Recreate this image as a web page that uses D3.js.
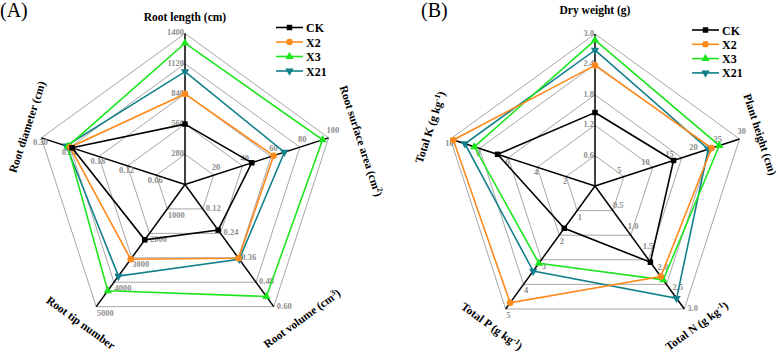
<!DOCTYPE html>
<html>
<head>
<meta charset="utf-8">
<script src="https://cdn.jsdelivr.net/npm/d3@7"></script>
<style>
  body { margin: 0; background: #fff; }
  svg { display: block; font-family: "Liberation Serif", "Times New Roman", serif; }
</style>
</head>
<body>
<svg id="chart" width="778" height="352"></svg>
<script>
// ---- data ----
const seriesNames = ["CK", "X2", "X3", "X21"];
const seriesColors = ["#000000", "#ff8a1c", "#1ee61e", "#127f8a"];

// panel A (root traits), clockwise from the top; {..} marks a superscript
const titlesA = ["Root length (cm)", "Root surface area (cm{2})", "Root volume (cm{3})", "Root tip number", "Root diameter (cm)"];
const maximaA = [1400, 100, 0.60, 5000, 0.30];
const tickLabelsA = [
  ["280", "560", "840", "1120", "1400"],
  ["20", "40", "60", "80", "100"],
  ["0.12", "0.24", "0.36", "0.48", "0.60"],
  ["1000", "2000", "3000", "4000", "5000"],
  ["0.06", "0.12", "0.18", "0.24", "0.30"]
];
const ckA  = [560, 46.5, 0.224, 2265, 0.236];
const x2A  = [840, 61.7, 0.362, 3060, 0.240];
const x3A  = [1310, 95.8, 0.550, 4350, 0.245];
const x21A = [1046, 69.2, 0.367, 3750, 0.248];

// panel B (plant traits)
const titlesB = ["Dry weight (g)", "Plant height (cm)", "Total N (g kg{-1})", "Total P (g kg{-1})", "Total K (g kg{-1})"];
const maximaB = [3.0, 30, 3.0, 5, 10];
const tickLabelsB = [
  ["0.6", "1.2", "1.8", "2.4", "3.0"],
  ["5", "10", "15", "20", "25", "30"],
  ["0.5", "1.0", "1.5", "2.0", "2.5", "3.0"],
  ["1", "2", "3", "4", "5"],
  ["2", "4", "6", "8", "10"]
];
const ckB  = [1.45, 16.3, 1.86, 1.72, 6.74];
const x2B  = [2.38, 24.2, 2.21, 4.75, 9.80];
const x3B  = [2.88, 25.8, 2.29, 3.14, 8.35];
const x21B = [2.68, 23.5, 2.74, 3.46, 9.00];

const svg = d3.select("#chart");

const symbolFor = [
  d3.symbol().type(d3.symbolSquare).size(30),
  d3.symbol().type(d3.symbolCircle).size(34),
  d3.symbol().type(d3.symbolTriangle).size(30),
  d3.symbol().type(d3.symbolTriangle).size(30)
];
const symbolRotate = [0, 0, 0, 180];

// tick label placement for each spoke (top, right, lower right, lower left, left)
const tickPos = [
  {anchor: "end", dx: -1, dy: 0},
  {anchor: "start", dx: -2, dy: -7},
  {anchor: "start", dx: 3, dy: 0},
  {anchor: "start", dx: 0.5, dy: 7},
  {anchor: "middle", dx: -1, dy: 5.5}
];

function addRich(sel, str) {
  // split "abc{2}" into normal and superscript tspans
  const parts = str.split(/(\{[^}]*\})/).filter(p => p.length);
  let up = false;
  parts.forEach(p => {
    if (p[0] === "{") {
      sel.append("tspan").attr("dy", -4).attr("font-size", "70%").text(p.slice(1, -1));
      up = true;
    } else {
      sel.append("tspan").attr("dy", up ? 4 : null).text(p);
      up = false;
    }
  });
}

function drawRadar(cfg) {
  const g = svg.append("g");
  const n = cfg.titles.length;
  const ang = i => i * 2 * Math.PI / n;
  const pt = (i, r) => [cfg.cx + r * Math.sin(ang(i)), cfg.cy - r * Math.cos(ang(i))];
  const scales = cfg.maxima.map(m => d3.scaleLinear().domain([0, m]).range([0, cfg.radius]));
  const ring = d3.scaleLinear().domain([0, 5]).range([0, cfg.radius]);
  const closed = d3.line().curve(d3.curveLinearClosed);

  // grid rings
  g.selectAll(".ring").data(d3.range(1, 6)).join("path")
    .attr("class", "ring")
    .attr("d", k => closed(d3.range(n).map(i => pt(i, ring(k)))))
    .attr("fill", "none")
    .attr("stroke", "#9c9c9c")
    .attr("stroke-width", 0.9);

  // spokes
  g.selectAll(".spoke").data(d3.range(n)).join("line")
    .attr("class", "spoke")
    .attr("x1", cfg.cx).attr("y1", cfg.cy)
    .attr("x2", i => pt(i, cfg.radius)[0])
    .attr("y2", i => pt(i, cfg.radius)[1])
    .attr("stroke", "#000")
    .attr("stroke-width", 1.5);

  // tick labels
  cfg.ticks.forEach((labels, i) => {
    g.append("g").selectAll("text").data(labels).join("text")
      .attr("x", t => pt(i, scales[i](+t))[0] + tickPos[i].dx)
      .attr("y", t => pt(i, scales[i](+t))[1] + tickPos[i].dy)
      .attr("text-anchor", tickPos[i].anchor)
      .attr("dominant-baseline", "middle")
      .attr("font-size", 8.5)
      .attr("font-weight", "bold")
      .attr("fill", "#8e8e8e")
      .text(t => t);
  });

  // axis titles
  cfg.titles.forEach((t, i) => {
    const txt = g.append("text")
      .attr("font-size", 11.5)
      .attr("font-weight", "bold")
      .attr("text-anchor", "middle")
      .attr("fill", "#000");
    if (i === 0) {
      txt.attr("x", cfg.cx).attr("y", cfg.cy - cfg.radius - cfg.topGap);
    } else {
      let deg = i * 360 / n;
      if (deg > 180) deg -= 360;
      if (deg > 90) deg -= 180;
      if (deg < -90) deg += 180;
      const [px, py] = pt(i, cfg.radius + cfg.titleGap[i]);
      txt.attr("transform", `translate(${px},${py}) rotate(${deg})`)
        .attr("x", cfg.titleShift[i])
        .attr("y", 4);
    }
    addRich(txt, t);
  });

  // series polygons, CK last so it sits on top
  const order = [3, 2, 1, 0];
  order.forEach(s => {
    const vals = cfg.series[s];
    const pts = vals.map((v, i) => pt(i, scales[i](v)));
    g.append("path")
      .attr("d", closed(pts))
      .attr("fill", "none")
      .attr("stroke", seriesColors[s])
      .attr("stroke-width", 1.6);
    g.append("g").selectAll("path").data(pts).join("path")
      .attr("transform", p => `translate(${p[0]},${p[1]}) rotate(${symbolRotate[s]})`)
      .attr("d", symbolFor[s]())
      .attr("fill", seriesColors[s]);
  });

  // legend
  const lg = g.append("g").attr("transform", `translate(${cfg.legendX},${cfg.legendY})`);
  seriesNames.forEach((name, s) => {
    const row = lg.append("g").attr("transform", `translate(0,${s * cfg.legendStep})`);
    row.append("line").attr("x1", 0).attr("x2", 27).attr("y1", 0).attr("y2", 0)
      .attr("stroke", seriesColors[s]).attr("stroke-width", 1.6);
    row.append("path")
      .attr("transform", `translate(13.5,0) rotate(${symbolRotate[s]})`)
      .attr("d", symbolFor[s]())
      .attr("fill", seriesColors[s]);
    row.append("text").attr("x", 30).attr("y", 4.5)
      .attr("font-size", 12).attr("font-weight", "bold")
      .text(name);
  });

  // panel letter
  svg.append("text")
    .attr("x", cfg.letterX).attr("y", 17)
    .attr("font-size", 20)
    .text(cfg.letter);
}

drawRadar({
  letter: "(A)", letterX: 0,
  cx: 185, cy: 184.5, radius: 151,
  titles: titlesA, maxima: maximaA, ticks: tickLabelsA,
  series: [ckA, x2A, x3A, x21A],
  topGap: 12.5,
  titleGap: [0, 30, 26, 22, 17],
  titleShift: [0, 13, 16, -3, 6],
  legendX: 276, legendY: 27.5, legendStep: 14.5
});

drawRadar({
  letter: "(B)", letterX: 421,
  cx: 595, cy: 186, radius: 152,
  titles: titlesB, maxima: maximaB, ticks: tickLabelsB,
  series: [ckB, x2B, x3B, x21B],
  topGap: 20,
  titleGap: [0, 21, 21, 22, 23],
  titleShift: [0, 2, 0, -1, 5],
  legendX: 692, legendY: 30, legendStep: 14.3
});
</script>
</body>
</html>
